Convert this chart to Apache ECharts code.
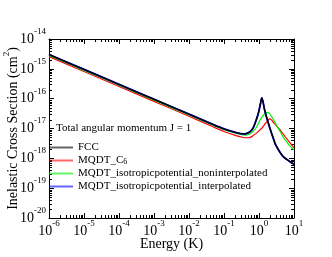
<!DOCTYPE html>
<html><head><meta charset="utf-8">
<script src="https://cdn.jsdelivr.net/npm/echarts@6/dist/echarts.min.js"></script>
<style>html,body{margin:0;padding:0;background:#fff}#c{width:332px;height:257px}</style>
</head><body><div id="c"></div>
<script>
// Energy grid (K)
const energy = [1e-6, 1e-5, 1e-4, 1e-3, 1e-2, 0.05, 0.1, 0.2, 0.3, 0.4, 0.5, 0.6, 0.7, 0.8, 0.9, 1.0, 1.1, 1.2, 1.3, 1.4, 1.5, 1.7, 2.0, 2.3, 2.6, 3.0, 4.0, 5.0, 7.0, 10];
// Inelastic cross sections (cm^2)
const fcc = [3.02e-15, 9.55e-16, 3.02e-16, 9.55e-17, 3.02e-17, 1.35e-17, 9.77e-18, 7.59e-18, 6.76e-18, 6.61e-18, 7.24e-18, 8.51e-18, 1.12e-17, 1.70e-17, 2.51e-17, 3.98e-17, 6.76e-17, 1.07e-16, 7.94e-17, 5.01e-17, 3.55e-17, 2.09e-17, 1.12e-17, 6.76e-18, 4.47e-18, 2.82e-18, 1.58e-18, 1.12e-18, 8.32e-19, 6.31e-19];
const mqdtC6 = [2.57e-15, 8.13e-16, 2.57e-16, 8.13e-17, 2.57e-17, 1.12e-17, 7.94e-18, 6.03e-18, 5.25e-18, 4.90e-18, 4.90e-18, 5.25e-18, 5.89e-18, 6.61e-18, 7.41e-18, 8.32e-18, 9.33e-18, 1.02e-17, 1.15e-17, 1.29e-17, 1.45e-17, 1.74e-17, 2.09e-17, 1.91e-17, 1.58e-17, 1.32e-17, 8.91e-18, 6.31e-18, 3.80e-18, 2.24e-18];
const mqdtNonInterp = [2.82e-15, 8.91e-16, 2.82e-16, 8.91e-17, 2.82e-17, 1.26e-17, 9.12e-18, 7.08e-18, 6.31e-18, 6.03e-18, 6.31e-18, 7.08e-18, 8.32e-18, 1.00e-17, 1.26e-17, 1.62e-17, 2.00e-17, 2.34e-17, 2.69e-17, 2.95e-17, 3.16e-17, 3.47e-17, 3.16e-17, 2.51e-17, 1.95e-17, 1.45e-17, 7.94e-18, 5.01e-18, 2.95e-18, 1.91e-18];
const mqdtInterp = [3.02e-15, 9.55e-16, 3.02e-16, 9.55e-17, 3.02e-17, 1.35e-17, 9.77e-18, 7.59e-18, 6.76e-18, 6.61e-18, 7.24e-18, 8.51e-18, 1.12e-17, 1.70e-17, 2.51e-17, 3.98e-17, 6.76e-17, 1.07e-16, 7.94e-17, 5.01e-17, 3.55e-17, 2.09e-17, 1.12e-17, 6.76e-18, 4.47e-18, 2.82e-18, 1.58e-18, 1.12e-18, 8.32e-19, 6.31e-19];

const seriesNames = ['FCC', 'MQDT_C6', 'MQDT_isotropicpotential_noninterpolated', 'MQDT_isotropicpotential_interpolated'];
const seriesColors = ['#000000', '#ff0000', '#00ee00', '#0000ff'];
const xRange = [1e-6, 10];
const yRange = [1e-20, 1e-14];
const annotation = 'Total angular momentum J = 1';

function minorValues(lo, hi) {
  const out = [];
  for (let e = lo; e < hi; e++) for (let m = 2; m <= 9; m++) out.push(+(m * Math.pow(10, e)).toPrecision(3));
  return out;
}
const xMinor = minorValues(-6, 1);
const yMinor = minorValues(-20, -14);

const FONT = 'Liberation Serif';
const rich = {
  b: { fontSize: 14, fontFamily: FONT, color: '#000', lineHeight: 24 },
  s: { fontSize: 9, fontFamily: FONT, color: '#000', lineHeight: 9, verticalAlign: 'top' }
};
function powLabel(v) {
  const e = Math.round(Math.log10(v));
  return '{b|10}{s|' + e + '}';
}
function pair(xs, ys) { return xs.map((x, i) => [x, ys[i]]); }

const chart = echarts.init(document.getElementById('c'), null, { renderer: 'canvas' });
const baseAxis = {
  type: 'log', logBase: 10,
  axisLine: { show: true, onZero: false, lineStyle: { color: '#000', width: 1 } },
  axisTick: { show: true, inside: true, length: 5, lineStyle: { color: '#000' } },
  splitLine: { show: false }, minorTick: { show: false }
};
const lineSeries = [fcc, mqdtC6, mqdtNonInterp, mqdtInterp].map((d, i) => ({
  name: seriesNames[i], type: 'line', data: pair(energy, d), showSymbol: false, symbol: 'none',
  smooth: 0.25,
  lineStyle: { color: seriesColors[i], width: i === 0 ? 1.4 : (i === 3 ? 1.8 : 1.2) },
  itemStyle: { color: seriesColors[i] },
  z: i === 0 ? 5 : (i === 3 ? 4 : (i === 1 ? 2 : 3))
}));

chart.setOption({
  animation: false,
  backgroundColor: '#fff',
  title: {
    text: annotation, left: 56, top: 123, padding: 0,
    textStyle: { fontSize: 11, fontWeight: 'normal', fontFamily: FONT, color: '#000' }
  },
  legend: {
    orient: 'vertical', left: 49, top: 142, itemGap: 2, padding: 0,
    itemWidth: 24, itemHeight: 2, icon: 'rect',
    data: seriesNames,
    itemStyle: { opacity: 0.6 },
    textStyle: { fontSize: 11, fontFamily: FONT, color: '#000', rich: { sub: { fontSize: 8, fontFamily: FONT, verticalAlign: 'bottom', lineHeight: 8 } } },
    formatter: function (n) { return n === 'MQDT_C6' ? 'MQDT_C{sub|6}' : n; }
  },
  grid: { left: 49, right: 38, top: 39, bottom: 39, containLabel: false, outerBoundsMode: 'none' },
  xAxis: [
    Object.assign({}, baseAxis, {
      min: xRange[0], max: xRange[1], position: 'bottom', splitNumber: 7,
      name: 'Energy (K)', nameLocation: 'middle', nameGap: 19, nameMoveOverlap: false,
      nameTextStyle: { fontSize: 14, fontFamily: FONT, color: '#000' },
      axisLabel: { show: true, margin: 1, formatter: powLabel, rich: rich }
    }),
    Object.assign({}, baseAxis, {
      min: xRange[0], max: xRange[1], position: 'top', splitNumber: 7, axisLabel: { show: false }
    })
  ],
  yAxis: [
    Object.assign({}, baseAxis, {
      min: yRange[0], max: yRange[1], position: 'left', splitNumber: 6,
      name: '{n|Inelastic Cross Section (cm}{s|2}{n|)}', nameLocation: 'middle', nameGap: 25, nameMoveOverlap: false,
      nameTextStyle: { fontSize: 14, fontFamily: FONT, color: '#000', rich: {
        n: { fontSize: 14, fontFamily: FONT, lineHeight: 22 },
        s: { fontSize: 9, fontFamily: FONT, verticalAlign: 'top', lineHeight: 9 } } },
      axisLabel: { show: true, margin: 3, formatter: powLabel, rich: rich }
    }),
    Object.assign({}, baseAxis, {
      min: yRange[0], max: yRange[1], position: 'right', splitNumber: 6, axisLabel: { show: false }
    })
  ],
  series: lineSeries.concat([
    {
      type: 'custom', name: 'xminor', silent: true, xAxisIndex: 0, yAxisIndex: 0,
      data: xMinor.map(v => [v, yRange[0]]),
      renderItem: function (params, api) {
        const cs = params.coordSys;
        const x = Math.round(api.coord([api.value(0), yRange[0]])[0]) + 0.5;
        return { type: 'group', children: [
          { type: 'line', shape: { x1: x, y1: cs.y + cs.height, x2: x, y2: cs.y + cs.height - 3 }, style: { stroke: '#000', lineWidth: 1 } },
          { type: 'line', shape: { x1: x, y1: cs.y, x2: x, y2: cs.y + 3 }, style: { stroke: '#000', lineWidth: 1 } }
        ] };
      }
    },
    {
      type: 'custom', name: 'yminor', silent: true, xAxisIndex: 0, yAxisIndex: 0,
      data: yMinor.map(v => [xRange[0], v]),
      renderItem: function (params, api) {
        const cs = params.coordSys;
        const y = Math.round(api.coord([xRange[0], api.value(1)])[1]) + 0.5;
        return { type: 'group', children: [
          { type: 'line', shape: { x1: cs.x, y1: y, x2: cs.x + 3, y2: y }, style: { stroke: '#000', lineWidth: 1 } },
          { type: 'line', shape: { x1: cs.x + cs.width, y1: y, x2: cs.x + cs.width - 3, y2: y }, style: { stroke: '#000', lineWidth: 1 } }
        ] };
      }
    }
  ])
});
</script>
</body></html>
